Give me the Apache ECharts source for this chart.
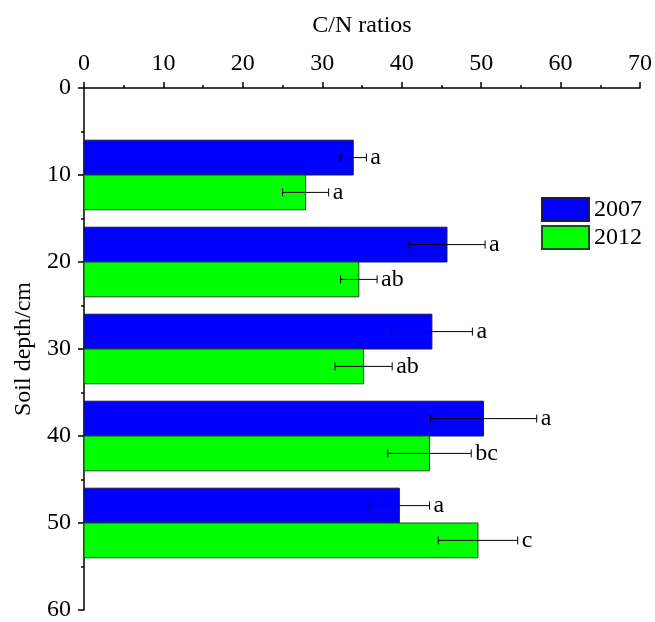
<!DOCTYPE html>
<html>
<head>
<meta charset="utf-8">
<script src="https://cdn.jsdelivr.net/npm/echarts@6/dist/echarts.min.js"></script>
<style>
  html, body { margin: 0; padding: 0; background: #fff; }
  #chart { width: 655px; height: 622px; }
</style>
</head>
<body>
<div id="chart"></div>
<script>
// Soil depth groups (cm) and C/N ratios per sampling year
const depths = [10, 20, 30, 40, 50];
const cn2007 = [33.9, 45.7, 43.8, 50.3, 39.7];
const cn2012 = [27.9, 34.6, 35.2, 43.5, 49.6];
const err2007 = [1.65, 4.8, 5.1, 6.7, 3.8];
const err2012 = [2.9, 2.3, 3.6, 5.25, 5.0];
const sig2007 = ['a', 'a', 'a', 'a', 'a'];
const sig2012 = ['a', 'ab', 'ab', 'bc', 'c'];
const years = ['2007', '2012'];

const FONT = '"Liberation Serif", "Times New Roman", serif';
const FS = 24;
const HALF = 4; // bar thickness in depth units

function makeSeries(name, vals, errs, sigs, color, border, above) {
  const data = depths.map((d, i) => [d, vals[i], errs[i], sigs[i]]);
  return {
    name: name,
    type: 'custom',
    itemStyle: { color: color, borderColor: border, borderWidth: 1 },
    data: data,
    renderItem: function (params, api) {
      const d = api.value(0), v = api.value(1), e = api.value(2);
      const sig = data[params.dataIndex][3];
      const y0 = above ? d - HALF : d;
      const y1 = above ? d : d + HALF;
      const p0 = api.coord([0, y0]);
      const p1 = api.coord([v, y1]);
      const mid = api.coord([v, (y0 + y1) / 2])[1];
      const xl = api.coord([v - e, 0])[0];
      const xr = api.coord([v + e, 0])[0];
      const cap = 4;
      return {
        type: 'group',
        children: [
          {
            type: 'rect',
            shape: { x: p0[0], y: p0[1], width: p1[0] - p0[0], height: p1[1] - p0[1] },
            style: { fill: color, stroke: border, lineWidth: 1 }
          },
          { type: 'line', shape: { x1: xl, y1: mid, x2: xr, y2: mid }, style: { stroke: '#000', lineWidth: 1 } },
          { type: 'line', shape: { x1: xl, y1: mid - cap, x2: xl, y2: mid + cap }, style: { stroke: '#000', lineWidth: 1 } },
          { type: 'line', shape: { x1: xr, y1: mid - cap, x2: xr, y2: mid + cap }, style: { stroke: '#000', lineWidth: 1 } },
          {
            type: 'text',
            x: xr + 4, y: mid,
            style: { text: sig, font: FS + 'px ' + FONT, fill: '#000', textVerticalAlign: 'middle', textAlign: 'left' }
          }
        ]
      };
    }
  };
}

const chart = echarts.init(document.getElementById('chart'));
chart.setOption({
  animation: false,
  backgroundColor: '#fff',
  grid: { left: 84, right: 5, top: 88, bottom: 7 },
  legend: {
    data: years,
    orient: 'vertical',
    left: 541, top: 197,
    itemWidth: 47, itemHeight: 23, itemGap: 3,
    icon: 'rect',
    textStyle: { fontFamily: FONT, fontSize: FS, color: '#000' },
    padding: 0
  },
  xAxis: {
    type: 'value',
    position: 'top',
    min: 0, max: 70, interval: 10,
    name: 'C/N ratios',
    nameLocation: 'middle',
    nameGap: 50,
    nameTextStyle: { fontFamily: FONT, fontSize: FS, color: '#000' },
    axisLine: { show: true, lineStyle: { color: '#000', width: 1.5 } },
    axisTick: { show: true, inside: false, length: 6, lineStyle: { color: '#000', width: 1.5 } },
    minorTick: { show: true, splitNumber: 2, length: 3, lineStyle: { color: '#000', width: 1.5 } },
    splitLine: { show: false },
    axisLabel: { fontFamily: FONT, fontSize: FS, color: '#000', margin: 12 }
  },
  yAxis: {
    type: 'value',
    inverse: true,
    min: 0, max: 60, interval: 10,
    name: 'Soil depth/cm',
    nameLocation: 'middle',
    nameGap: 44,
    nameRotate: 90,
    nameTextStyle: { fontFamily: FONT, fontSize: FS, color: '#000' },
    axisLine: { show: true, lineStyle: { color: '#000', width: 1.5 } },
    axisTick: { show: true, inside: false, length: 6, lineStyle: { color: '#000', width: 1.5 } },
    minorTick: { show: true, splitNumber: 2, length: 3, lineStyle: { color: '#000', width: 1.5 } },
    splitLine: { show: false },
    axisLabel: { fontFamily: FONT, fontSize: FS, color: '#000', margin: 13 }
  },
  series: [
    makeSeries(years[0], cn2007, err2007, sig2007, '#0000ff', '#1a1a4d', true),
    makeSeries(years[1], cn2012, err2012, sig2012, '#00ff00', '#1a4d1a', false)
  ]
});
</script>
</body>
</html>
